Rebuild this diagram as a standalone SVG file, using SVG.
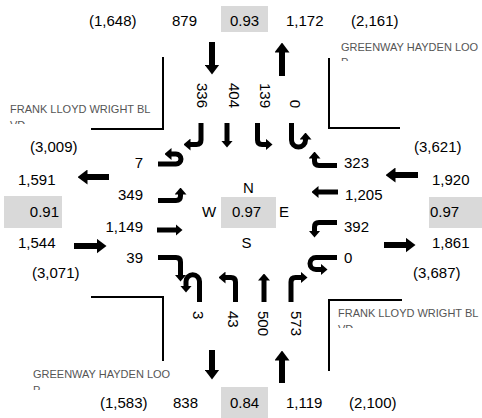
<svg xmlns="http://www.w3.org/2000/svg" width="482" height="418" viewBox="0 0 482 418">
<style>
text{font-family:"Liberation Sans",Arial,sans-serif;font-size:15px;fill:#000}
.st{font-size:11px;fill:#555}
.box{fill:#d9d9d9}
.m{text-anchor:middle}
.e{text-anchor:end}
.a{fill:none;stroke:#000;stroke-width:5;stroke-linejoin:round}
.a.s{marker-end:url(#hs)}
.b{fill:none;stroke:#000;stroke-width:6;marker-end:url(#hb)}
.corner{fill:none;stroke:#000;stroke-width:2}
</style>
<defs>
<marker id="hs" markerUnits="userSpaceOnUse" markerWidth="7" markerHeight="12" viewBox="0 0 7 12" refX="0.5" refY="6" orient="auto"><path d="M0,0L7,6L0,12z"/></marker>
<marker id="hb" markerUnits="userSpaceOnUse" markerWidth="10" markerHeight="15" viewBox="0 0 10 15" refX="0.5" refY="7.5" orient="auto"><path d="M0,0L10,7.5L0,15z"/></marker>
<clipPath id="cTL"><rect x="0" y="95" width="200" height="29"/></clipPath>
<clipPath id="cTR"><rect x="330" y="35" width="152" height="26"/></clipPath>
<clipPath id="cBL"><rect x="20" y="360" width="180" height="30"/></clipPath>
<clipPath id="cBR"><rect x="330" y="300" width="152" height="28"/></clipPath>
</defs>

<g id="corners">
<path class="corner" d="M163,57V129H91"/>
<path class="corner" d="M329,58V128H400"/>
<path class="corner" d="M91,297H163V361"/>
<path class="corner" d="M402,300H329V371"/>
</g>

<g id="streets">
<g clip-path="url(#cTL)"><text class="st" x="10" y="113">FRANK LLOYD WRIGHT BL</text><text class="st" x="10" y="129">VD</text></g>
<g clip-path="url(#cTR)"><text class="st" x="341" y="50.5">GREENWAY HAYDEN LOO</text><text class="st" x="341" y="66">P</text></g>
<g clip-path="url(#cBL)"><text class="st" x="33" y="378">GREENWAY HAYDEN LOO</text><text class="st" x="33" y="394">P</text></g>
<g clip-path="url(#cBR)"><text class="st" x="338" y="317">FRANK LLOYD WRIGHT BL</text><text class="st" x="338" y="333">VD</text></g>
</g>

<g id="north">
<text x="89" y="26">(1,648)</text>
<text x="172" y="26">879</text>
<rect class="box" x="221" y="6" width="47" height="26"/>
<text class="m" x="244.5" y="26">0.93</text>
<text x="286" y="26">1,172</text>
<text x="351" y="26">(2,161)</text>
<text class="e" transform="translate(196.6,108) rotate(90)">336</text>
<text class="e" transform="translate(229,108) rotate(90)">404</text>
<text class="e" transform="translate(260.2,108) rotate(90)">139</text>
<text class="e" transform="translate(290.2,108) rotate(90)">0</text>
</g>

<g id="south">
<text x="100" y="408">(1,583)</text>
<text x="173" y="408">838</text>
<rect class="box" x="221" y="387" width="47" height="31"/>
<text class="m" x="244.5" y="408">0.84</text>
<text x="286" y="408">1,119</text>
<text x="349" y="408">(2,100)</text>
<text transform="translate(192.6,311) rotate(90)">3</text>
<text transform="translate(227.6,311) rotate(90)">43</text>
<text transform="translate(257.6,311) rotate(90)">500</text>
<text transform="translate(290.6,311) rotate(90)">573</text>
</g>

<g id="west">
<text x="30" y="152">(3,009)</text>
<text x="18" y="185">1,591</text>
<rect class="box" x="4" y="196" width="58" height="32"/>
<text class="e" x="59" y="217">0.91</text>
<text x="18" y="248">1,544</text>
<text x="32" y="278">(3,071)</text>
<text class="e" x="143" y="168">7</text>
<text class="e" x="143" y="200">349</text>
<text class="e" x="143" y="232">1,149</text>
<text class="e" x="143" y="263">39</text>
</g>

<g id="east">
<text x="414" y="152">(3,621)</text>
<text x="432" y="185">1,920</text>
<rect class="box" x="429" y="197" width="53" height="31"/>
<text x="430" y="217">0.97</text>
<text x="432" y="248">1,861</text>
<text x="413" y="278">(3,687)</text>
<text x="344" y="168">323</text>
<text x="345" y="200">1,205</text>
<text x="344" y="232">392</text>
<text x="344" y="263">0</text>
</g>

<g id="center">
<text class="m" x="248.5" y="193">N</text>
<text x="202" y="217">W</text>
<rect class="box" x="221" y="197" width="55" height="31"/>
<text class="m" x="246.5" y="217">0.97</text>
<text x="279" y="217">E</text>
<text class="m" x="246.5" y="248">S</text>
</g>

<g id="connectors">
<path class="b" d="M212,42V65"/>
<path class="b" d="M282,76V52"/>
<path class="b" d="M109,177H87"/>
<path class="b" d="M74,246H97"/>
<path class="b" d="M418,175H395"/>
<path class="b" d="M384,245H406"/>
<path class="b" d="M212,350V370"/>
<path class="b" d="M282,383V360"/>

<path class="a s" d="M158,164H176A5,5 0 0 0 176,154H171"/>
<path class="a s" d="M158,200.5H176Q180.5,200.5 180.5,196V194"/>
<path class="a s" d="M157,230H176"/>
<path class="a s" d="M158,257.5H176Q180.5,257.5 180.5,262V275"/>

<path class="a s" d="M201,123V140Q201,144.5 196.5,144.5H190"/>
<path class="a s" d="M227,123V141"/>
<path class="a s" d="M257.5,123V140Q257.5,144.5 262,144.5H266"/>
<path class="a s" d="M291.5,123V140A7,7 0 0 0 305.5,140V139"/>

<path class="a s" d="M337,165.5H319Q314.5,165.5 314.5,161V158"/>
<path class="a s" d="M338,192H318"/>
<path class="a s" d="M337,222.5H319Q314.5,222.5 314.5,227V231"/>
<path class="a s" d="M337,257.5H316A6,6 0 0 0 316,269.5H321"/>

<path class="a s" d="M199.5,302V281.5A6.75,6.75 0 0 0 186,281.5V286"/>
<path class="a s" d="M235.5,302V282Q235.5,277.5 231,277.5H225"/>
<path class="a s" d="M264,302V280"/>
<path class="a s" d="M291,302V282Q291,277.5 295.5,277.5H301"/>
</g>
</svg>
